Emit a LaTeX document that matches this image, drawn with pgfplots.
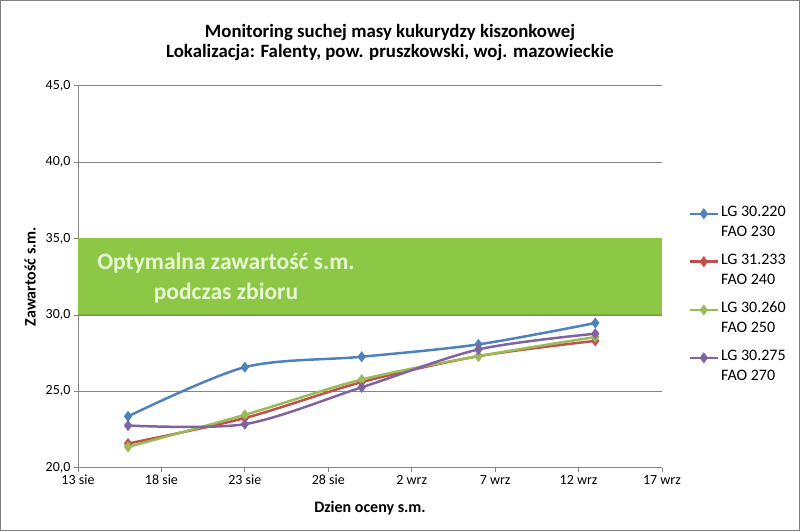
\documentclass[border=0pt]{standalone}
\usepackage{fontspec}
\setmainfont{Carlito}
\usepackage{pgfplots}
\pgfplotsset{compat=1.18}

\definecolor{sBlue}{RGB}{79,129,189}
\definecolor{sRed}{RGB}{192,80,77}
\definecolor{sGreen}{RGB}{155,187,89}
\definecolor{sPurple}{RGB}{128,100,162}
\definecolor{bandGreen}{RGB}{141,199,70}
\definecolor{bandEdge}{RGB}{120,176,60}
\definecolor{bandText}{RGB}{232,246,212}
\definecolor{gridGray}{RGB}{134,134,134}
\definecolor{frameGray}{RGB}{128,128,128}

\begin{document}
\begin{tikzpicture}[x=1pt,y=1pt]
  % axis box lower-left sits at the origin (78px from left, 63.3px from bottom)
  \begin{axis}[
      scale only axis,
      width=584pt, height=382pt,
      xmin=0, xmax=35, ymin=20, ymax=45,
      xtick={0,5,...,35},
      xticklabels={13 sie, 18 sie, 23 sie, 28 sie, 2 wrz, 7 wrz, 12 wrz, 17 wrz},
      ytick={20,25,...,45},
      yticklabel style={/pgf/number format/.cd, fixed, fixed zerofill, precision=1, use comma, assume math mode=true},
      ticklabel style={font=\fontsize{14}{16}\selectfont},
      axis x line*=bottom, axis y line*=left,
      axis line style={gridGray, line width=0.8pt},
      tick style={gridGray, line width=0.8pt},
      tick align=outside, major tick length=4pt,
      ymajorgrids, grid style={gridGray, line width=0.8pt},
      xlabel={Dzien oceny s.m.},
      ylabel={Zawartość s.m.},
      label style={font=\fontsize{16}{18}\selectfont\bfseries},
      xlabel style={at={(axis description cs:0.5,-0.105)}, anchor=center},
      ylabel style={at={(axis description cs:-0.082,0.5)}, anchor=center},
      legend style={at={(1.04,0.695)}, anchor=north west, draw=none, fill=none,
        row sep=32pt, font=\fontsize{16}{20}\selectfont},
      legend cell align=left,
      legend style={cells={anchor=base west}},
      legend image code/.code={%
        \draw[mark repeat=2, mark phase=2, line width=2.5pt]
          plot coordinates {(0pt,0.3em) (14pt,0.3em) (28pt,0.3em)};},
      every axis plot/.append style={line width=2.5pt, smooth, tension=0.5,
        mark=diamond*, mark size=3.5pt, mark options={solid}},
    ]
    \fill[bandGreen] (axis cs:0,30) rectangle (axis cs:35,35.05);
    \draw[bandEdge, line width=1pt] (axis cs:0,30) -- (axis cs:35,30);
    \node[align=center, text=bandText, font=\fontsize{23.5}{30}\selectfont\bfseries] at (axis cs:8.87,32.41)
      {Optymalna zawartość s.m.\\podczas zbioru};

    \addplot[sBlue] coordinates {(3,23.36) (10,26.58) (17,27.26) (24,28.07) (31,29.47)};
    \addlegendentry{\vtop{\hbox{LG 30.220}\hbox{FAO 230}}}
    \addplot[sRed] coordinates {(3,21.58) (10,23.25) (17,25.60) (24,27.30) (31,28.30)};
    \addlegendentry{\vtop{\hbox{LG 31.233}\hbox{FAO 240}}}
    \addplot[sGreen] coordinates {(3,21.36) (10,23.46) (17,25.77) (24,27.30) (31,28.55)};
    \addlegendentry{\vtop{\hbox{LG 30.260}\hbox{FAO 250}}}
    \addplot[sPurple] coordinates {(3,22.76) (10,22.85) (17,25.26) (24,27.74) (31,28.77)};
    \addlegendentry{\vtop{\hbox{LG 30.275}\hbox{FAO 270}}}
  \end{axis}

  \node[align=center, font=\fontsize{18.8}{20}\selectfont\bfseries] at (312,425.7)
    {Monitoring suchej masy kukurydzy kiszonkowej\\Lokalizacja: Falenty, pow. pruszkowski, woj. mazowieckie};

  % chart area frame, 800 x 531
  \pgfresetboundingbox
  \useasboundingbox (-78,-63.3) rectangle (722,467.7);
  \draw[frameGray, line width=1.5pt] (-77.25,-62.55) rectangle (721.25,466.95);
\end{tikzpicture}
\end{document}
